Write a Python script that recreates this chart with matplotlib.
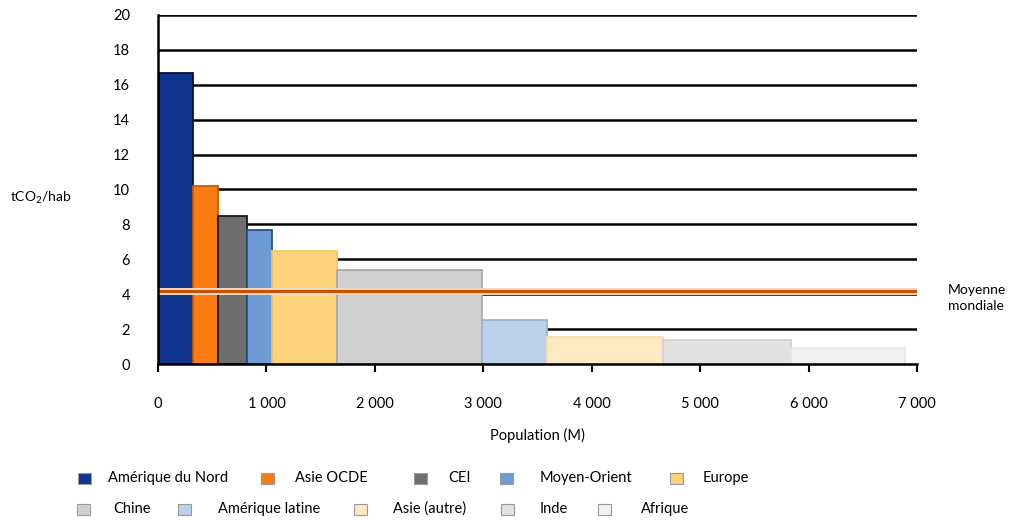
import matplotlib
matplotlib.use("Agg")
import matplotlib.pyplot as plt
import matplotlib.patheffects as pe
from matplotlib.patches import Rectangle
import numpy as np

# regions, population (M) = bar width, emissions per capita (tCO2/hab) = bar height
regions = ["Amérique du Nord", "Asie OCDE", "CEI", "Moyen-Orient", "Europe",
           "Chine", "Amérique latine", "Asie (autre)", "Inde", "Afrique"]
population = [325, 230, 265, 230, 600, 1340, 600, 1070, 1180, 1050]
co2_per_cap = [16.7, 10.2, 8.5, 7.7, 6.5, 5.4, 2.5, 1.55, 1.4, 0.9]
world_avg = 4.2

fill_colors = ["#10358c", "#f97b12", "#6e6e6e", "#6e9ad6", "#fdd37c",
               "#cfcfcf", "#bcd0ec", "#fde9c2", "#e2e2e2", "#f1f1f1"]
edge_colors = ["#06142e", "#c85a08", "#1c1c1c", "#2f4f80", "#f4c565",
               "#a9a9a9", "#9fb4d2", "#f7dfb0", "#d2d2d2", "#e6e6e6"]

x_ticks = [0, 1000, 2000, 3000, 4000, 5000, 6000, 7000]
x_tick_labels = ["0", "1 000", "2 000", "3 000", "4 000", "5 000", "6 000", "7 000"]
y_ticks = list(range(0, 21, 2))

plt.rcParams['font.family'] = ['Lato', 'DejaVu Sans']
plt.rcParams['mathtext.fontset'] = 'custom'
plt.rcParams['mathtext.rm'] = 'Lato'

fig = plt.figure(figsize=(10.14, 5.2), dpi=100)
ax = fig.add_axes([0.1558, 0.30, 0.7485, 0.6712])

lefts = np.concatenate([[0], np.cumsum(population)[:-1]])
ax.bar(lefts, co2_per_cap, width=population, align='edge',
       color=fill_colors, edgecolor=edge_colors, linewidth=1.3, zorder=3)

# gridlines behind the bars
for y in y_ticks[1:]:
    ax.axhline(y, color='black', linewidth=1.8, zorder=1)

# world average line
ax.plot([0, 7000], [world_avg, world_avg], color='#c4520e', linewidth=2.2, zorder=5,
        path_effects=[pe.Stroke(linewidth=5, foreground='#f8d9b8'), pe.Normal()])

ax.set_xlim(0, 7000)
ax.set_ylim(0, 20)
ax.set_xticks(x_ticks)
ax.set_xticklabels(x_tick_labels)
ax.set_yticks(y_ticks)
ax.tick_params(axis='x', direction='out', length=6, width=1.5, pad=18, labelsize=10.5)
ax.tick_params(axis='y', length=0, pad=20, labelsize=10.5)

for side in ['top', 'right']:
    ax.spines[side].set_visible(False)
ax.spines['left'].set_linewidth(1.8)
ax.spines['bottom'].set_linewidth(1.8)
ax.spines['left'].set_zorder(6)
ax.spines['bottom'].set_zorder(6)

ax.set_xlabel("Population (M)", fontsize=10.5, labelpad=12)
fig.text(10 / 1014, 1 - 198 / 520, "tCO$_2$/hab", fontsize=10, va='center', ha='left')
fig.text(948 / 1014, 1 - 298 / 520, "Moyenne\nmondiale", fontsize=10, va='center',
         ha='left', linespacing=1.35)

# legend placed in two rows like the original: (marker centre x, y, text start x) in pixels
legend_pos = [(84, 478, 108), (267, 478, 295), (420, 478, 448), (506, 478, 540), (676, 478, 703),
              (83, 509, 113), (184, 509, 218), (360, 509, 393), (507, 509, 540), (604, 509, 641)]
for (mx, my, tx), name, fc in zip(legend_pos, regions, fill_colors):
    w, h = 13, 11
    fig.patches.append(Rectangle(((mx - w / 2) / 1014, 1 - (my + h / 2) / 520), w / 1014, h / 520,
                                 transform=fig.transFigure, facecolor=fc, edgecolor='#9a9a9a',
                                 linewidth=0.8))
    fig.text(tx / 1014, 1 - my / 520, name, fontsize=10.5, va='center', ha='left')

fig.savefig("out.png", dpi=100)
